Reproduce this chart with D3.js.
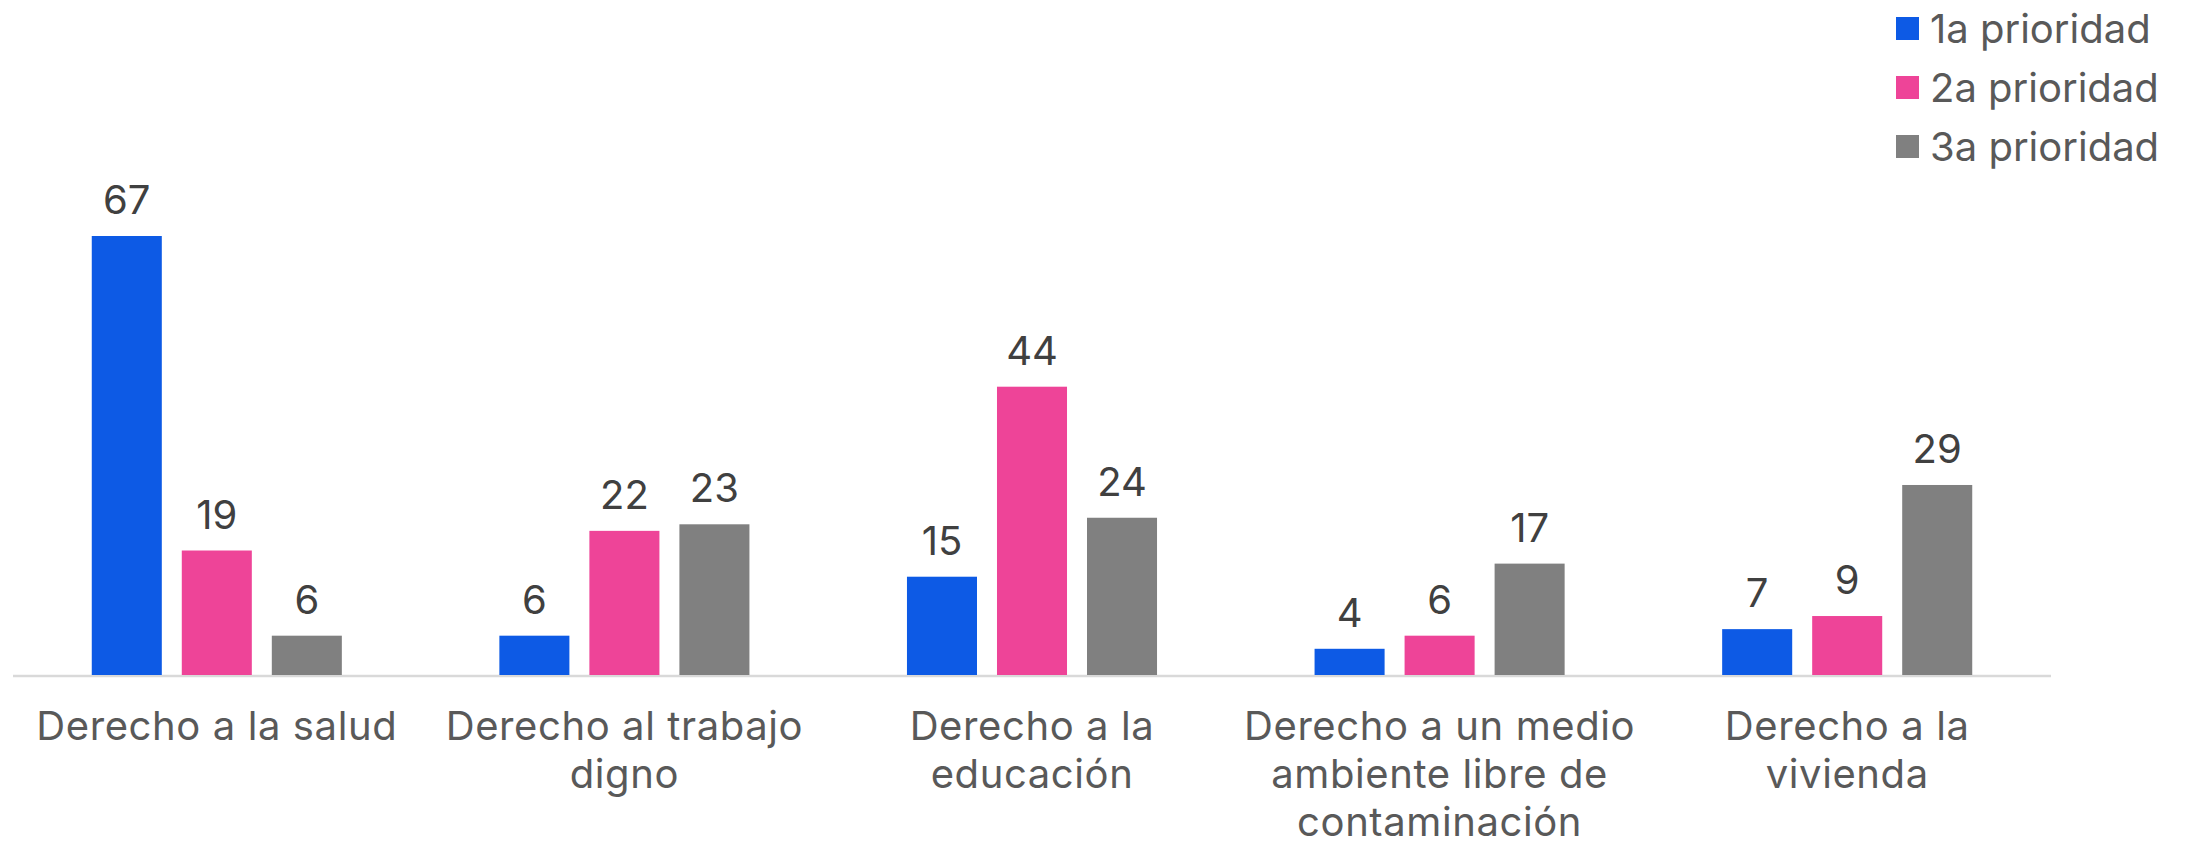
<!DOCTYPE html>
<html>
<head>
<meta charset="utf-8">
<script src="https://cdn.jsdelivr.net/npm/d3@7"></script>
<style>
  html, body { margin: 0; padding: 0; background: #fff; }
  svg { display: block; font-family: Inter, "Noto Sans", sans-serif; }
</style>
</head>
<body>
<svg id="chart" width="2187" height="845"></svg>
<script>
// categories (line breaks as in the picture)
const categories = [
  "Derecho a la salud",
  "Derecho al trabajo\ndigno",
  "Derecho a la\neducación",
  "Derecho a un medio\nambiente libre de\ncontaminación",
  "Derecho a la\nvivienda"
]
const series = ["1a prioridad", "2a prioridad", "3a prioridad"]
const prioridad1 = [67, 6, 15, 4, 7]
const prioridad2 = [19, 22, 44, 6, 9]
const prioridad3 = [6, 23, 24, 17, 29]
const colors = ["#0d5ae5", "#ee4498", "#808080"]

let svg = d3.select("#chart")
let values = [prioridad1, prioridad2, prioridad3]

let rows = categories.map(function (c, i) {
  return { cat: c, vals: series.map(function (s, j) { return { key: s, value: values[j][i], idx: j } }) }
})

let x0 = d3.scaleBand()
  .domain(categories)
  .range([13, 2051])
  .padding(0)

let x1 = d3.scaleBand()
  .domain(series)
  .range([0, x0.bandwidth()])
  .paddingInner(0.222)
  .paddingOuter(0.875)

let y = d3.scaleLinear()
  .domain([0, d3.max(values.flat())])
  .range([675, 236])

let color = d3.scaleOrdinal().domain(series).range(colors)

// axis line
svg.append("line")
  .attr("x1", x0.range()[0])
  .attr("x2", x0.range()[1])
  .attr("y1", y(0) + 1)
  .attr("y2", y(0) + 1)
  .attr("stroke", "#d9d9d9")
  .attr("stroke-width", 2.5)

let group = svg.selectAll("g.grp")
  .data(rows)
  .enter()
  .append("g")
  .attr("class", "grp")
  .attr("transform", function (d) { return "translate(" + x0(d.cat) + ",0)" })

group.selectAll("rect")
  .data(function (d) { return d.vals })
  .enter()
  .append("rect")
  .attr("x", function (d) { return x1(d.key) })
  .attr("y", function (d) { return y(d.value) })
  .attr("width", x1.bandwidth())
  .attr("height", function (d) { return y(0) - y(d.value) })
  .attr("fill", function (d) { return color(d.key) })

// value labels
group.selectAll("text.val")
  .data(function (d) { return d.vals })
  .enter()
  .append("text")
  .attr("class", "val")
  .attr("x", function (d) { return x1(d.key) + x1.bandwidth() / 2 })
  .attr("y", function (d) { return y(d.value) - 22 })
  .attr("text-anchor", "middle")
  .attr("font-size", 40)
  .attr("fill", "#404040")
  .text(function (d) { return d.value })

// category labels
let catLabel = svg.selectAll("text.cat")
  .data(categories)
  .enter()
  .append("text")
  .attr("class", "cat")
  .attr("text-anchor", "middle")
  .attr("font-size", 40)
  .attr("letter-spacing", 0.6)
  .attr("fill", "#595959")
  .attr("transform", function (d) { return "translate(" + (x0(d) + x0.bandwidth() / 2) + ",740)" })

catLabel.selectAll("tspan")
  .data(function (d) { return d.split("\n") })
  .enter()
  .append("tspan")
  .attr("x", 0)
  .attr("y", function (d, i) { return i * 48 })
  .text(function (d) { return d })

// legend
let legend = svg.selectAll("g.legend")
  .data(series)
  .enter()
  .append("g")
  .attr("class", "legend")
  .attr("transform", function (d, i) { return "translate(1896," + (17 + i * 59) + ")" })

legend.append("rect")
  .attr("width", 23)
  .attr("height", 23)
  .attr("fill", function (d) { return color(d) })

legend.append("text")
  .attr("x", 34)
  .attr("y", 26)
  .attr("font-size", 40)
  .attr("fill", "#595959")
  .text(function (d) { return d })
</script>
</body>
</html>
